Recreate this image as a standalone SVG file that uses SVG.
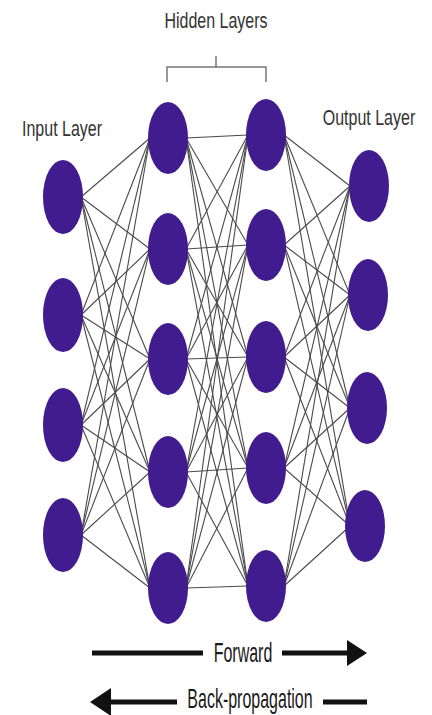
<svg xmlns="http://www.w3.org/2000/svg" width="432" height="715" viewBox="0 0 432 715">
<style>
.node{fill:#411c8e}
.edge{stroke:#4a4a4a;stroke-width:1.1;fill:none}
.lbl{font-family:"Liberation Sans",Arial,sans-serif;font-size:16px;fill:#333}
.arr{font-family:"Liberation Sans",Arial,sans-serif;font-size:16px;fill:#1a1a1a}
.bar{stroke:#111;stroke-width:5;fill:none}
.brk{stroke:#777;stroke-width:1.5;fill:none}
</style>
<rect width="432" height="715" fill="#ffffff"/>
<g id="connectors">
<line class="edge" x1="81" y1="197" x2="150" y2="138"/><line class="edge" x1="81" y1="197" x2="150" y2="249"/><line class="edge" x1="81" y1="197" x2="150" y2="359"/><line class="edge" x1="81" y1="197" x2="150" y2="472"/><line class="edge" x1="81" y1="197" x2="150" y2="588"/>
<line class="edge" x1="81" y1="315" x2="150" y2="138"/><line class="edge" x1="81" y1="315" x2="150" y2="249"/><line class="edge" x1="81" y1="315" x2="150" y2="359"/><line class="edge" x1="81" y1="315" x2="150" y2="472"/><line class="edge" x1="81" y1="315" x2="150" y2="588"/>
<line class="edge" x1="81" y1="425" x2="150" y2="138"/><line class="edge" x1="81" y1="425" x2="150" y2="249"/><line class="edge" x1="81" y1="425" x2="150" y2="359"/><line class="edge" x1="81" y1="425" x2="150" y2="472"/><line class="edge" x1="81" y1="425" x2="150" y2="588"/>
<line class="edge" x1="81" y1="535" x2="150" y2="138"/><line class="edge" x1="81" y1="535" x2="150" y2="249"/><line class="edge" x1="81" y1="535" x2="150" y2="359"/><line class="edge" x1="81" y1="535" x2="150" y2="472"/><line class="edge" x1="81" y1="535" x2="150" y2="588"/>
<line class="edge" x1="186" y1="138" x2="248" y2="135"/><line class="edge" x1="186" y1="138" x2="248" y2="245"/><line class="edge" x1="186" y1="138" x2="248" y2="357"/><line class="edge" x1="186" y1="138" x2="248" y2="468"/><line class="edge" x1="186" y1="138" x2="248" y2="586"/>
<line class="edge" x1="186" y1="249" x2="248" y2="135"/><line class="edge" x1="186" y1="249" x2="248" y2="245"/><line class="edge" x1="186" y1="249" x2="248" y2="357"/><line class="edge" x1="186" y1="249" x2="248" y2="468"/><line class="edge" x1="186" y1="249" x2="248" y2="586"/>
<line class="edge" x1="186" y1="359" x2="248" y2="135"/><line class="edge" x1="186" y1="359" x2="248" y2="245"/><line class="edge" x1="186" y1="359" x2="248" y2="357"/><line class="edge" x1="186" y1="359" x2="248" y2="468"/><line class="edge" x1="186" y1="359" x2="248" y2="586"/>
<line class="edge" x1="186" y1="472" x2="248" y2="135"/><line class="edge" x1="186" y1="472" x2="248" y2="245"/><line class="edge" x1="186" y1="472" x2="248" y2="357"/><line class="edge" x1="186" y1="472" x2="248" y2="468"/><line class="edge" x1="186" y1="472" x2="248" y2="586"/>
<line class="edge" x1="186" y1="588" x2="248" y2="135"/><line class="edge" x1="186" y1="588" x2="248" y2="245"/><line class="edge" x1="186" y1="588" x2="248" y2="357"/><line class="edge" x1="186" y1="588" x2="248" y2="468"/><line class="edge" x1="186" y1="588" x2="248" y2="586"/>
<line class="edge" x1="284" y1="135" x2="350" y2="186"/><line class="edge" x1="284" y1="135" x2="350" y2="295"/><line class="edge" x1="284" y1="135" x2="350" y2="408"/><line class="edge" x1="284" y1="135" x2="350" y2="526"/>
<line class="edge" x1="284" y1="245" x2="350" y2="186"/><line class="edge" x1="284" y1="245" x2="350" y2="295"/><line class="edge" x1="284" y1="245" x2="350" y2="408"/><line class="edge" x1="284" y1="245" x2="350" y2="526"/>
<line class="edge" x1="284" y1="357" x2="350" y2="186"/><line class="edge" x1="284" y1="357" x2="350" y2="295"/><line class="edge" x1="284" y1="357" x2="350" y2="408"/><line class="edge" x1="284" y1="357" x2="350" y2="526"/>
<line class="edge" x1="284" y1="468" x2="350" y2="186"/><line class="edge" x1="284" y1="468" x2="350" y2="295"/><line class="edge" x1="284" y1="468" x2="350" y2="408"/><line class="edge" x1="284" y1="468" x2="350" y2="526"/>
<line class="edge" x1="284" y1="586" x2="350" y2="186"/><line class="edge" x1="284" y1="586" x2="350" y2="295"/><line class="edge" x1="284" y1="586" x2="350" y2="408"/><line class="edge" x1="284" y1="586" x2="350" y2="526"/>
</g>
<g id="input-layer">
<text class="lbl" transform="translate(22,136) scale(1,1.35)">Input Layer</text>
<g id="in1"><ellipse class="node" cx="63" cy="197" rx="20" ry="37"/></g>
<g id="in2"><ellipse class="node" cx="63" cy="315" rx="20" ry="37"/></g>
<g id="in3"><ellipse class="node" cx="63" cy="425" rx="20" ry="37"/></g>
<g id="in4"><ellipse class="node" cx="63" cy="535" rx="20" ry="37"/></g>
</g>
<g id="hidden-label">
<text class="lbl" text-anchor="middle" transform="translate(216,28) scale(1,1.35)">Hidden Layers</text>
<path class="brk" d="M167,82 V67 H266 V82 M216,67 V56"/>
</g>
<g id="hidden-layer-1">
<g id="h1a"><ellipse class="node" cx="168" cy="138" rx="20" ry="36"/></g>
<g id="h1b"><ellipse class="node" cx="168" cy="249" rx="20" ry="36"/></g>
<g id="h1c"><ellipse class="node" cx="168" cy="359" rx="20" ry="36"/></g>
<g id="h1d"><ellipse class="node" cx="168" cy="472" rx="20" ry="36"/></g>
<g id="h1e"><ellipse class="node" cx="168" cy="588" rx="20" ry="36"/></g>
</g>
<g id="hidden-layer-2">
<g id="h2a"><ellipse class="node" cx="266" cy="135" rx="20" ry="36"/></g>
<g id="h2b"><ellipse class="node" cx="266" cy="245" rx="20" ry="36"/></g>
<g id="h2c"><ellipse class="node" cx="266" cy="357" rx="20" ry="36"/></g>
<g id="h2d"><ellipse class="node" cx="266" cy="468" rx="20" ry="36"/></g>
<g id="h2e"><ellipse class="node" cx="266" cy="586" rx="20" ry="36"/></g>
</g>
<g id="output-layer">
<text class="lbl" text-anchor="middle" transform="translate(369,125) scale(1,1.35)">Output Layer</text>
<g id="out1"><ellipse class="node" cx="369" cy="186" rx="20" ry="36"/></g>
<g id="out2"><ellipse class="node" cx="368" cy="295" rx="20" ry="36"/></g>
<g id="out3"><ellipse class="node" cx="367" cy="408" rx="20" ry="36"/></g>
<g id="out4"><ellipse class="node" cx="365" cy="526" rx="20" ry="36"/></g>
</g>
<g id="forward">
<line class="bar" x1="92" y1="653" x2="203" y2="653"/>
<text class="arr" text-anchor="middle" transform="translate(243,662) scale(1,1.7)">Forward</text>
<line class="bar" x1="282" y1="653" x2="350" y2="653"/>
<polygon points="347,640 367,653 347,666" fill="#111"/>
</g>
<g id="backprop">
<polygon points="111,688 90,702 111,716" fill="#111"/>
<line class="bar" x1="109" y1="702" x2="177" y2="702"/>
<text class="arr" text-anchor="middle" transform="translate(250,708) scale(1,1.7)">Back-propagation</text>
<line class="bar" x1="323" y1="702" x2="367" y2="702"/>
</g>
</svg>
